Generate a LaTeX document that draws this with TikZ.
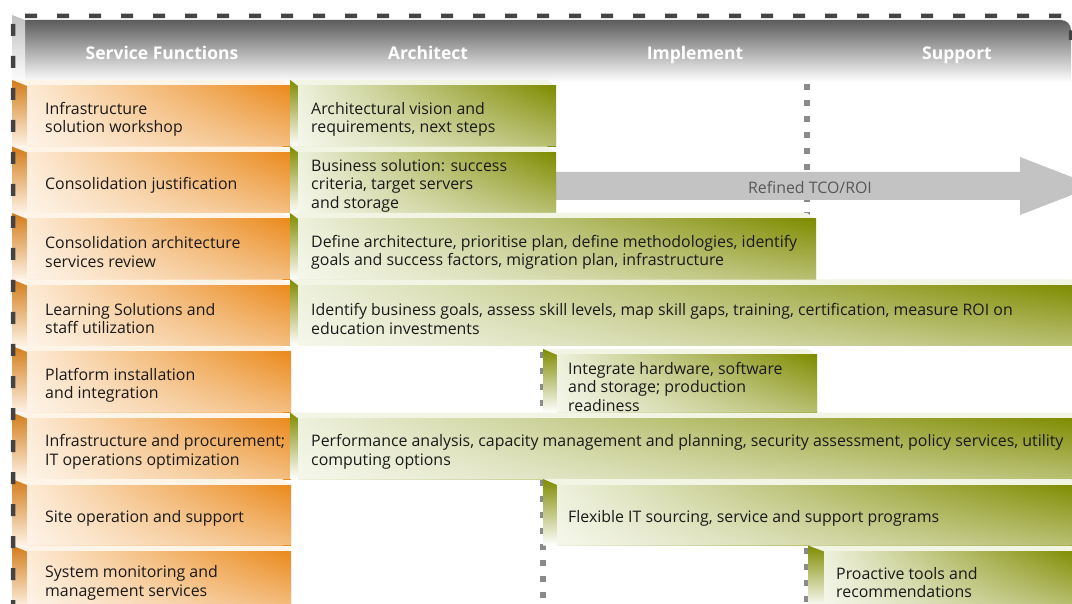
\documentclass[tikz,border=0pt]{standalone}
\usepackage{fontspec}
\setmainfont{Open Sans}
\usetikzlibrary{fadings}
\definecolor{orD}{HTML}{EB8A1C}
\definecolor{orL}{HTML}{FDEBD6}
\definecolor{orTop}{HTML}{FEF4E8}
\definecolor{grD}{HTML}{7F8C00}
\definecolor{grL}{HTML}{EEF1DC}
\definecolor{grTop}{HTML}{F2F4E4}
\definecolor{hdrD}{HTML}{5C5C5C}
\definecolor{bordc}{HTML}{434343}
\definecolor{dotc}{HTML}{8A8A8A}
\definecolor{arrc}{HTML}{C3C3C3}
\definecolor{txtc}{HTML}{1A1A1A}
\definecolor{arrtxt}{HTML}{585858}
\newcommand{\rowbox}[9]{%
  \fill[#7top] (#2,#3) -- ({#4-9},#3) -- (#4,{#3+6}) -- ({#2+#6},{#3+6}) -- cycle;
  \shade[#7bev] (#2,#3) -- ({#2+#6},{#3+6}) -- ({#2+#6},#5) -- (#2,#5) -- cycle;
  \node[#7face, minimum width={(#4-#2-#6)*1pt}, minimum height={(#5-#3-6)*1pt}, anchor=north west] (#1) at ({#2+#6},{#3+6}) {};
  \node[boxtext, anchor=west] (#1-t) at ([xshift=#8pt, yshift=-3pt]#1.west) {#9};
}
\begin{document}
\begin{tikzpicture}[x=1pt,y=-1pt,
  otop/.style={fill=orTop},
  gtop/.style={fill=grTop},
  obev/.style={top color=orD!90!black, bottom color=orL!60!white},
  gbev/.style={top color=grD, bottom color=white},
  oface/.style={rectangle, inner sep=0pt, outer sep=0pt, left color=orL, right color=orD,
    path picture={\fill[white, path fading=north, fill opacity=0.45] (path picture bounding box.south west) rectangle (path picture bounding box.north east);}},
  gface/.style={rectangle, inner sep=0pt, outer sep=0pt, left color=grL, right color=grD,
    path picture={\fill[white, path fading=north, fill opacity=0.45] (path picture bounding box.south west) rectangle (path picture bounding box.north east);}},
  boxtext/.style={inner sep=0pt, align=left, text=txtc, font=\fontsize{15.9}{18.5}\selectfont},
  hdrtext/.style={inner sep=0pt, anchor=base, text=white, font=\fontsize{17.5}{21}\selectfont\bfseries},
  dotline/.style={draw=dotc, line width=5.5pt, dash pattern=on 6pt off 10pt},
  border/.style={draw=bordc, line width=4.5pt, dash pattern=on 12pt off 20pt},
]
\useasboundingbox (0,0) rectangle (1072,604);
\begin{scope}
\clip (0,0) rectangle (1072,604);
% header
\shade[top color=hdrD, bottom color=white, middle color=black!32] (25,20) -- (1061,20) arc[start angle=-90, end angle=0, radius=10] -- (1071,82) -- (25,82) -- cycle;
\shade[top color=black!25, bottom color=white] (12,15) -- (25,20) -- (25,82) -- (12,82) -- cycle;
\node[hdrtext] (h1) at (162,60) {Service Functions};
\node[hdrtext] (h2) at (428,60) {Architect};
\node[hdrtext] (h3) at (695,60) {Implement};
\node[hdrtext] (h4) at (957,60) {Support};
% dotted phase lines
\draw[dotline] (807,84) -- (807,612);
\draw[dotline] (543,352) -- (543,612);
% arrow
\fill[arrc] (556,172) -- (1020,172) -- (1020,157) -- (1095,186) -- (1020,215) -- (1020,200) -- (556,200) -- cycle;
\node[inner sep=0pt, text=arrtxt, font=\fontsize{15.9}{18.5}\selectfont] (arrlbl) at (810,187) {Refined TCO/ROI};
% rows
\rowbox{o1}{12}{80}{291}{146.5}{15}{o}{18}{Infrastructure\\solution workshop}
\rowbox{g1}{290}{80}{556}{146.5}{8}{g}{13}{Architectural vision and\\requirements, next steps}
\rowbox{o2}{12}{146.5}{291}{213}{15}{o}{18}{Consolidation justification}
\rowbox{g2}{290}{146.5}{556}{213}{8}{g}{13}{Business solution: success\\criteria, target servers\\and storage}
\rowbox{o3}{12}{213}{291}{279.5}{15}{o}{18}{Consolidation architecture\\services review}
\rowbox{g3}{290}{213}{816}{279.5}{8}{g}{13}{Define architecture, prioritise plan, define methodologies, identify\\goals and success factors, migration plan, infrastructure}
\rowbox{o4}{12}{279.5}{291}{346}{15}{o}{18}{Learning Solutions and\\staff utilization}
\rowbox{g4}{290}{279.5}{1080}{346}{8}{g}{13}{Identify business goals, assess skill levels, map skill gaps, training, certification, measure ROI on\\education investments}
\rowbox{o5}{12}{346}{291}{412.5}{15}{o}{18}{Platform installation\\and integration}
\rowbox{g5}{543}{349}{817}{412.5}{14}{g}{11}{Integrate hardware, software\\and storage; production\\readiness}
\rowbox{o6}{12}{412.5}{291}{479}{15}{o}{18}{Infrastructure and procurement;\\IT operations optimization}
\rowbox{g6}{290}{412.5}{1080}{479}{8}{g}{13}{Performance analysis, capacity management and planning, security assessment, policy services, utility\\computing options}
\rowbox{o7}{12}{479}{291}{545.5}{15}{o}{18}{Site operation and support}
\rowbox{g7}{543}{479}{1080}{545.5}{14}{g}{11}{Flexible IT sourcing, service and support programs}
\rowbox{o8}{12}{545.5}{291}{608}{15}{o}{18}{System monitoring and\\management services}
\rowbox{g8}{808}{545.5}{1080}{608}{16}{g}{12}{Proactive tools and\\recommendations}
% dashed border
\draw[border] (13,612) -- (13,16) -- (1061,16) arc[start angle=-90, end angle=0, radius=10] -- (1071,40);
\end{scope}
\end{tikzpicture}
\end{document}
